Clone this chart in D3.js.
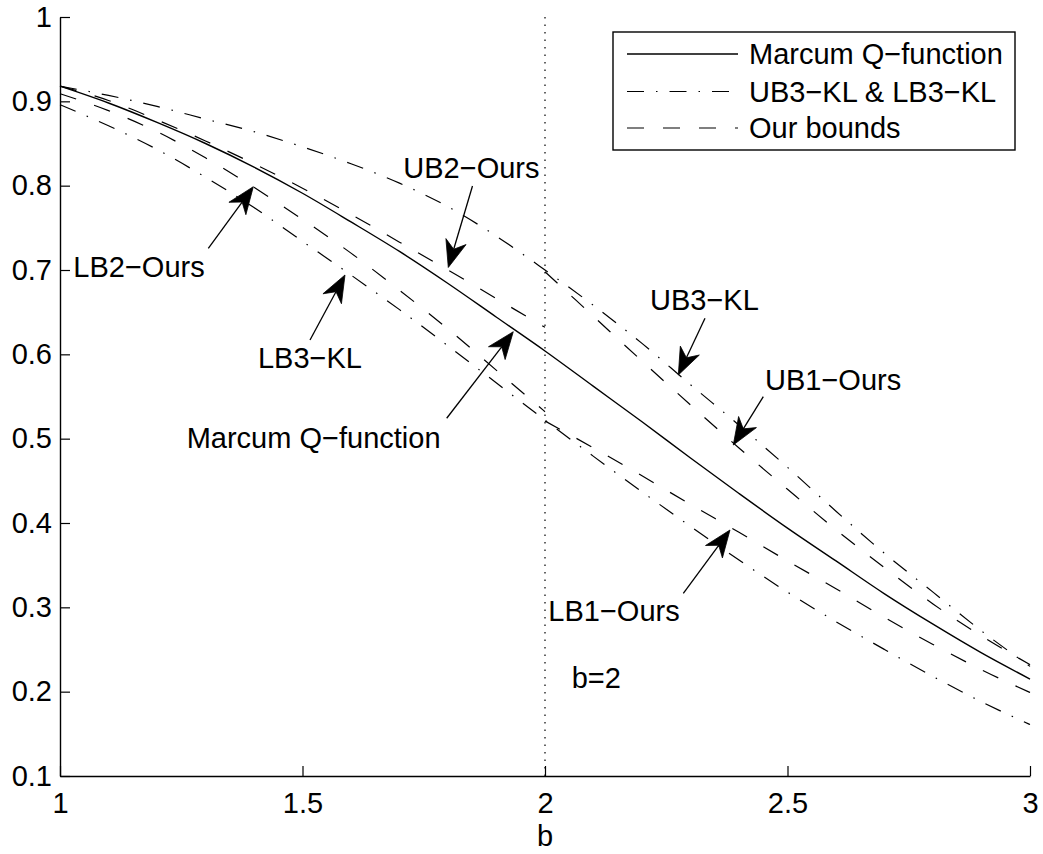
<!DOCTYPE html>
<html>
<head>
<meta charset="utf-8">
<script src="https://cdn.jsdelivr.net/npm/d3@7/dist/d3.min.js"></script>
<style>
  html, body { margin: 0; padding: 0; background: #fff; }
  svg { display: block; }
  text { font-family: "Liberation Sans", Arial, Helvetica, sans-serif; fill: #000; }
</style>
</head>
<body>
<div id="chart"></div>
<script>
// Argument b on the shared grid and on the two half ranges
const bGrid  = [1.0, 1.1, 1.2, 1.3, 1.4, 1.5, 1.6, 1.7, 1.8, 1.9, 2.0, 2.1, 2.2, 2.3, 2.4, 2.5, 2.6, 2.7, 2.8, 2.9, 3.0];
const bLeft  = [1.0, 1.1, 1.2, 1.3, 1.4, 1.5, 1.6, 1.7, 1.8, 1.9, 2.0];
const bRight = [2.0, 2.1, 2.2, 2.3, 2.4, 2.5, 2.6, 2.7, 2.8, 2.9, 3.0];

// Marcum Q-function and the Kam-Li style bounds over the whole range
const marcumQ = [0.918, 0.898, 0.875, 0.850, 0.822, 0.791, 0.757, 0.722, 0.684, 0.644, 0.604, 0.562, 0.520, 0.477, 0.435, 0.394, 0.355, 0.316, 0.280, 0.246, 0.215];
const ub3KL   = [0.918, 0.907, 0.894, 0.879, 0.864, 0.846, 0.826, 0.803, 0.775, 0.740, 0.700, 0.658, 0.613, 0.564, 0.516, 0.466, 0.414, 0.364, 0.318, 0.272, 0.230];
const lb3KL   = [0.896, 0.871, 0.843, 0.810, 0.774, 0.734, 0.694, 0.653, 0.610, 0.566, 0.522, 0.479, 0.437, 0.396, 0.356, 0.318, 0.283, 0.250, 0.218, 0.188, 0.161];

// Our bounds: second pair for b <= 2, first pair for b >= 2
const ub2Ours = [0.918, 0.901, 0.878, 0.853, 0.826, 0.797, 0.766, 0.733, 0.700, 0.666, 0.632];
const lb2Ours = [0.909, 0.889, 0.864, 0.833, 0.798, 0.760, 0.720, 0.676, 0.630, 0.581, 0.532];
const ub1Ours = [0.698, 0.645, 0.592, 0.540, 0.489, 0.440, 0.392, 0.347, 0.304, 0.266, 0.232];
const lb1Ours = [0.521, 0.489, 0.456, 0.422, 0.389, 0.355, 0.322, 0.288, 0.256, 0.226, 0.199];

// Axis ticks
const xTicks = [1, 1.5, 2, 2.5, 3];
const xTickLabels = ["1", "1.5", "2", "2.5", "3"];
const yTicks = [0.1, 0.2, 0.3, 0.4, 0.5, 0.6, 0.7, 0.8, 0.9, 1];
const yTickLabels = ["0.1", "0.2", "0.3", "0.4", "0.5", "0.6", "0.7", "0.8", "0.9", "1"];

// Marker line at b = 2
const markerB = 2;

// Legend entries
const legendLabels = ["Marcum Q\u2212function", "UB3\u2212KL & LB3\u2212KL", "Our bounds"];
const legendStyles = ["solid", "dashdot", "dashed"];

// Curve annotations: label anchor, arrow tail and arrow tip in (b, value)
const noteLabels = ["LB2\u2212Ours", "UB2\u2212Ours", "LB3\u2212KL", "Marcum Q\u2212function", "UB3\u2212KL", "UB1\u2212Ours", "LB1\u2212Ours"];
const noteTextAt = [[1.0275, 0.692], [1.7078, 0.8088], [1.4082, 0.5835], [1.2612, 0.4895], [2.2165, 0.6526], [2.4536, 0.5577], [2.0068, 0.2842]];
const noteTail   = [[1.3058, 0.7257], [1.8505, 0.7996], [1.5155, 0.6170], [1.7973, 0.5242], [2.3299, 0.6427], [2.4501, 0.5498], [2.2852, 0.3166]];
const noteTip    = [[1.3986, 0.7988], [1.8006, 0.7030], [1.5876, 0.6941], [1.9346, 0.6268], [2.2749, 0.5755], [2.3882, 0.4925], [2.3814, 0.3917]];
const markerLabel = "b=2";
const markerLabelAt = [2.0551, 0.204];

const W = 1043, H = 854;
const margin = { left: 60, right: 13, top: 17, bottom: 78 };
const FONT = 29;

const dashStyles = {
  solid: null,
  dashed: "17,19",
  dashdot: "17,12,1.5,12"
};

const svg = d3.select("#chart").append("svg")
  .attr("width", W).attr("height", H);

const x = d3.scaleLinear().domain([1, 3]).range([margin.left, W - margin.right]);
const y = d3.scaleLinear().domain([0.1, 1]).range([H - margin.bottom, margin.top]);

// Axes with inward ticks
const xAxis = d3.axisBottom(x)
  .tickValues(xTicks)
  .tickFormat((d, i) => xTickLabels[i])
  .tickSizeInner(-10).tickSizeOuter(0).tickPadding(16);
const yAxis = d3.axisLeft(y)
  .tickValues(yTicks)
  .tickFormat((d, i) => yTickLabels[i])
  .tickSizeInner(-10).tickSizeOuter(0).tickPadding(8);

const gx = svg.append("g").attr("transform", `translate(0,${y(0.1)})`).call(xAxis);
const gy = svg.append("g").attr("transform", `translate(${x(1)},0)`).call(yAxis);
[gx, gy].forEach(g => {
  g.selectAll("path.domain").attr("stroke", "#000").attr("stroke-width", 1.4);
  g.selectAll(".tick line").attr("stroke", "#000").attr("stroke-width", 1.2);
  g.selectAll(".tick text").style("font-size", FONT + "px")
    .style("font-family", '"Liberation Sans", Arial, sans-serif').attr("fill", "#000");
});

// x-axis title
svg.append("text")
  .attr("x", x(2)).attr("y", 846)
  .attr("text-anchor", "middle")
  .style("font-size", FONT + "px")
  .text("b");

// Dotted marker line at b = 2
svg.append("line")
  .attr("x1", x(markerB)).attr("x2", x(markerB))
  .attr("y1", y(0.1)).attr("y2", y(1))
  .attr("stroke", "#000").attr("stroke-width", 1.2)
  .attr("stroke-dasharray", "1.5,6");

// Curves
const line = d3.line()
  .x(d => x(d[0])).y(d => y(d[1]))
  .curve(d3.curveMonotoneX);

const curves = [
  { b: bGrid,  v: ub3KL,   style: "dashdot", w: 1.2 },
  { b: bGrid,  v: lb3KL,   style: "dashdot", w: 1.2 },
  { b: bLeft,  v: ub2Ours, style: "dashed",  w: 1.2 },
  { b: bLeft,  v: lb2Ours, style: "dashed",  w: 1.2 },
  { b: bRight, v: ub1Ours, style: "dashed",  w: 1.2 },
  { b: bRight, v: lb1Ours, style: "dashed",  w: 1.2 },
  { b: bGrid,  v: marcumQ, style: "solid",   w: 1.4 }
];

svg.append("g").selectAll("path")
  .data(curves)
  .join("path")
  .attr("d", c => line(c.b.map((bv, i) => [bv, c.v[i]])))
  .attr("fill", "none")
  .attr("stroke", "#000")
  .attr("stroke-width", c => c.w)
  .attr("stroke-dasharray", c => dashStyles[c.style]);

// Arrow with a notched filled head
function arrow(g, tail, tip) {
  const tx = x(tail[0]), ty = y(tail[1]);
  const px = x(tip[0]),  py = y(tip[1]);
  const len = Math.hypot(px - tx, py - ty);
  const ux = (px - tx) / len, uy = (py - ty) / len;
  const nx = -uy, ny = ux;
  const L = 27, Wd = 10.5, N = 19;
  g.append("line")
    .attr("x1", tx).attr("y1", ty)
    .attr("x2", px - N * ux).attr("y2", py - N * uy)
    .attr("stroke", "#000").attr("stroke-width", 1.3);
  const pts = [
    [px, py],
    [px - L * ux + Wd * nx, py - L * uy + Wd * ny],
    [px - N * ux, py - N * uy],
    [px - L * ux - Wd * nx, py - L * uy - Wd * ny]
  ];
  g.append("polygon")
    .attr("points", pts.map(p => p.join(",")).join(" "))
    .attr("fill", "#000").attr("stroke", "#000").attr("stroke-width", 0.8);
}

const notes = svg.append("g");
noteLabels.forEach((lab, i) => {
  notes.append("text")
    .attr("x", x(noteTextAt[i][0])).attr("y", y(noteTextAt[i][1]))
    .style("font-size", FONT + "px")
    .text(lab);
  arrow(notes, noteTail[i], noteTip[i]);
});

notes.append("text")
  .attr("x", x(markerLabelAt[0])).attr("y", y(markerLabelAt[1]))
  .style("font-size", FONT + "px")
  .text(markerLabel);

// Legend
const lg = svg.append("g");
const box = { x0: 613, x1: 1015, y0: 32, y1: 150 };
lg.append("rect")
  .attr("x", box.x0).attr("y", box.y0)
  .attr("width", box.x1 - box.x0).attr("height", box.y1 - box.y0)
  .attr("fill", "#fff").attr("stroke", "#000").attr("stroke-width", 1.4);
const rowY = [54, 91.5, 128];
legendLabels.forEach((lab, i) => {
  lg.append("line")
    .attr("x1", 627).attr("x2", 738)
    .attr("y1", rowY[i]).attr("y2", rowY[i])
    .attr("stroke", "#000").attr("stroke-width", i === 0 ? 1.4 : 1.2)
    .attr("stroke-dasharray", dashStyles[legendStyles[i]]);
  lg.append("text")
    .attr("x", 749).attr("y", rowY[i] + 10.3)
    .style("font-size", FONT + "px")
    .text(lab);
});
</script>
</body>
</html>
